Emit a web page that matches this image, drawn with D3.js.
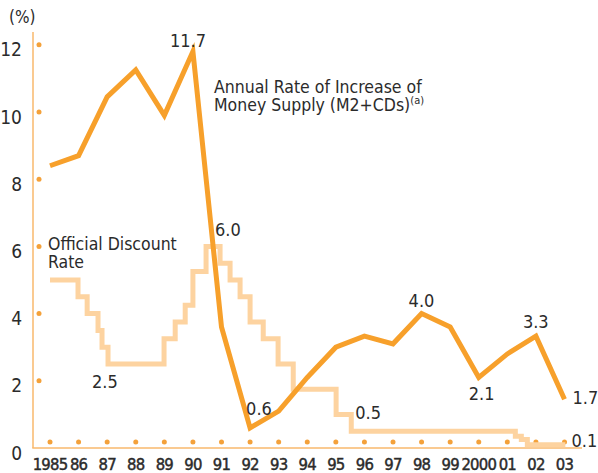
<!DOCTYPE html>
<html><head><meta charset="utf-8">
<script src="https://cdn.jsdelivr.net/npm/d3@7"></script>
<style>
html,body{margin:0;padding:0;background:#fff;}
svg{display:block;font-family:"DejaVu Sans Condensed","Liberation Sans Narrow","Arial Narrow",sans-serif;}
</style></head>
<body>
<svg id="c" width="598" height="473"></svg>
<script>
// ---- data ----
const years = [1985,1986,1987,1988,1989,1990,1991,1992,1993,1994,1995,1996,1997,1998,1999,2000,2001,2002,2003];
const yearLabels = ["1985","86","87","88","89","90","91","92","93","94","95","96","97","98","99","2000","01","02","03"];
const moneySupply = [8.4,8.7,10.45,11.25,9.9,11.8,3.6,0.6,1.1,2.1,3.0,3.33,3.1,4.0,3.6,2.1,2.8,3.33,1.45];
const discountDates = [1985,1985.98,1986.30,1986.68,1986.82,1987.03,1988.99,1989.38,1989.73,1990.0,1990.46,1990.95,1991.30,1991.65,1992.0,1992.46,1992.98,1993.51,1995.01,1995.54,2001.28,2001.49,2001.70,2003.03];
const discountRate = [5.0,4.5,4.0,3.5,3.0,2.5,3.25,3.75,4.25,5.25,6.0,5.5,5.0,4.5,3.75,3.25,2.5,1.75,1.0,0.5,0.35,0.25,0.1,0.1];
const yTicks = [0,2,4,6,8,10,12];
const valueLabels = [
  {text:"11.7", year:1990, value:11.8, dx:-23, dy:-5},
  {text:"6.0", year:1990.46, value:6.0, dx:9, dy:-10},
  {text:"2.5", year:1987.03, value:2.5, dx:-16, dy:24},
  {text:"0.6", year:1992, value:0.6, dx:-4, dy:-13},
  {text:"0.5", year:1995.54, value:0.5, dx:4, dy:-12},
  {text:"4.0", year:1998, value:4.0, dx:-13, dy:-7},
  {text:"2.1", year:2000, value:2.1, dx:-10, dy:23},
  {text:"3.3", year:2002, value:3.33, dx:-13, dy:-8},
  {text:"1.7", year:2003, value:1.45, dx:8, dy:5},
  {text:"0.1", year:2003, value:0.1, dx:7, dy:2}
];

// ---- scales ----
const svg = d3.select("#c");
const x = d3.scaleLinear().domain([1985,2003]).range([50,564.5]);
const y = d3.scaleLinear().domain([0,12]).range([448,44.8]);

const axisCol = "#f9b96c", dotCol = "#f4a13a", moneyCol = "#f7a02b", discCol = "#fdd3a0", txt = "#2b2b2b";

// axes lines
svg.append("line").attr("x1",33).attr("x2",33).attr("y1",32).attr("y2",y(0)).attr("stroke",axisCol).attr("stroke-width",1.5);
svg.append("line").attr("x1",32.25).attr("x2",582).attr("y1",y(0)).attr("y2",y(0)).attr("stroke",axisCol).attr("stroke-width",1.5);

// y tick dots and labels
svg.selectAll(".ydot").data(yTicks.filter(d=>d>0)).join("circle")
  .attr("cx",39).attr("cy",d=>y(d)).attr("r",2.5).attr("fill",dotCol);
svg.selectAll(".ylab").data(yTicks).join("text")
  .attr("x",22).attr("y",d=>y(d)+11.5).attr("text-anchor","end")
  .attr("font-size",19).attr("fill",txt).text(d=>d);
svg.append("text").attr("x",9).attr("y",23).attr("font-size",17).attr("fill",txt).text("(%)");

// x dots and labels
svg.selectAll(".xdot").data(years).join("circle")
  .attr("cx",d=>x(d)).attr("cy",442).attr("r",2.5).attr("fill",dotCol);
svg.selectAll(".xlab").data(years).join("text")
  .attr("x",(d)=>x(d)).attr("y",470).attr("text-anchor","middle")
  .attr("font-size",16.5).attr("fill",txt).attr("stroke",txt).attr("stroke-width",0.45)
  .attr("letter-spacing",-0.8)
  .text((d,i)=>yearLabels[i]);

// discount step line
const discData = discountDates.map((d,i)=>[d,discountRate[i]]);
svg.append("path").datum(discData)
  .attr("d", d3.line().x(d=>x(d[0])).y(d=>y(d[1])).curve(d3.curveStepAfter))
  .attr("fill","none").attr("stroke",discCol).attr("stroke-width",5).attr("stroke-linejoin","miter");

// money supply line
const moneyData = years.map((d,i)=>[d,moneySupply[i]]);
svg.append("path").datum(moneyData)
  .attr("d", d3.line().x(d=>x(d[0])).y(d=>y(d[1])))
  .attr("fill","none").attr("stroke",moneyCol).attr("stroke-width",5).attr("stroke-linejoin","miter");

// value labels
svg.selectAll(".vlab").data(valueLabels).join("text")
  .attr("x",d=>x(d.year)+d.dx).attr("y",d=>y(d.value)+d.dy)
  .attr("font-size",18).attr("fill",txt).text(d=>d.text);

// series labels
const ms = svg.append("text").attr("font-size",17.5).attr("fill",txt);
ms.append("tspan").attr("x",214).attr("y",93).text("Annual Rate of Increase of");
ms.append("tspan").attr("x",214).attr("y",111).text("Money Supply (M2+CDs)");
ms.append("tspan").attr("dy",-7).attr("font-size",11).text("(a)");

const od = svg.append("text").attr("font-size",17.5).attr("fill",txt);
od.append("tspan").attr("x",48).attr("y",250).text("Official Discount");
od.append("tspan").attr("x",48).attr("y",268).text("Rate");
</script>
</body></html>
